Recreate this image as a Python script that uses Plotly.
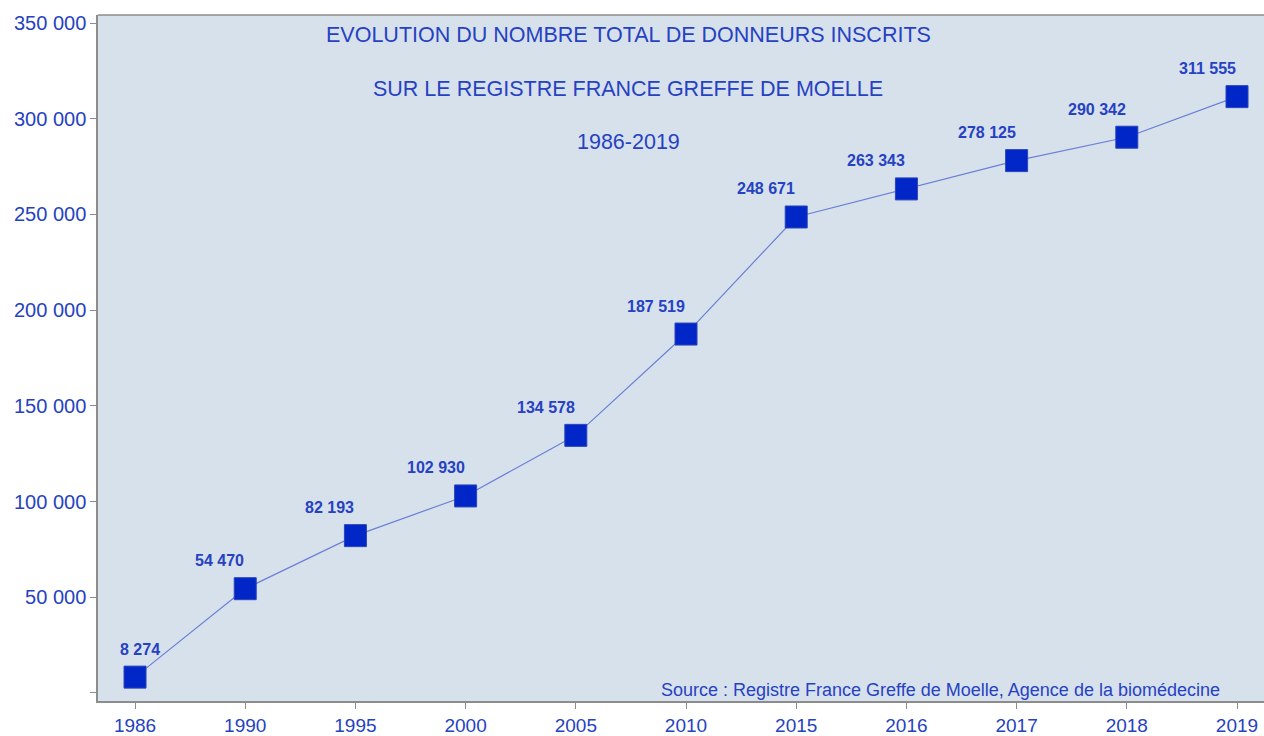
import plotly.graph_objects as go

years = ["1986", "1990", "1995", "2000", "2005", "2010", "2015", "2016", "2017", "2018", "2019"]
donors = [8274, 54470, 82193, 102930, 134578, 187519, 248671, 263343, 278125, 290342, 311555]
y_ticks = [0, 50000, 100000, 150000, 200000, 250000, 300000, 350000]
y_ticktext = ["" if v == 0 else f"{v:,}".replace(",", " ") for v in y_ticks]
title_lines = ["EVOLUTION DU NOMBRE TOTAL DE DONNEURS INSCRITS",
               "SUR LE REGISTRE FRANCE GREFFE DE MOELLE",
               "1986-2019"]
source = "Source : Registre France Greffe de Moelle, Agence de la biomédecine"

FONT = "Liberation Sans, Arial, sans-serif"
TXT = "#2642c2"

W, H = 1264, 736
L, R, T, B = 98, 0, 15, 35
pw, ph = W - L - R, H - T - B


def px_to_paper(px, py):
    return (px - L) / pw, (H - B - py) / ph


fig = go.Figure()
fig.add_trace(go.Scatter(
    x=years, y=donors, mode="lines+markers",
    line=dict(color="#6a7fd6", width=1.2),
    marker=dict(symbol="square", size=22, color="#0026c8",
                line=dict(color="#2a44b8", width=1)),
    hoverinfo="x+y", showlegend=False,
))

annotations = []
for i, v in enumerate(donors):
    first = (i == 0)
    annotations.append(dict(x=i, y=v, xref="x", yref="y", yshift=28,
                            xanchor="center" if first else "right",
                            xshift=5 if first else 1,
                            text="<b>" + f"{v:,}".replace(",", " ") + "</b>",
                            showarrow=False,
                            font=dict(family=FONT, size=16, color=TXT)))

for i, (t, yp) in enumerate(zip(title_lines, [35, 89, 142])):
    xp, ypp = px_to_paper(628, yp)
    annotations.append(dict(x=xp, y=ypp, xref="paper", yref="paper",
                            text=t, showarrow=False, xanchor="center", yanchor="middle",
                            font=dict(family=FONT, size=21.5, color=TXT)))

xs, ys = px_to_paper(1222, 690)
annotations.append(dict(x=xs, y=ys, xref="paper", yref="paper", text=source,
                        showarrow=False, xanchor="right", yanchor="middle",
                        font=dict(family=FONT, size=18, color=TXT)))

fig.update_layout(
    width=W, height=H,
    margin=dict(l=L, r=R, t=T, b=B),
    paper_bgcolor="white", plot_bgcolor="#d7e1ec",
    font=dict(family=FONT, color=TXT),
    annotations=annotations,
    xaxis=dict(type="category", range=[-0.336, 10.245],
               showline=True, linecolor="#8c8c8c", linewidth=1.5, mirror=False,
               ticks="outside", ticklen=6, tickcolor="#8c8c8c",
               showgrid=False, zeroline=False,
               tickfont=dict(family=FONT, size=19, color=TXT)),
    yaxis=dict(range=[-4200, 354200], tickvals=y_ticks, ticktext=y_ticktext,
               showline=True, linecolor="#8c8c8c", linewidth=1.5,
               ticks="outside", ticklen=6, tickcolor="#8c8c8c",
               showgrid=False, zeroline=False,
               tickfont=dict(family=FONT, size=20, color=TXT)),
    shapes=[dict(type="line", xref="paper", yref="paper", x0=0, x1=1, y0=1, y1=1,
                 line=dict(color="#8c8c8c", width=1.5))],
)

fig.write_html("out.html", config={"displayModeBar": False},
               post_script="document.body.style.margin='0';document.body.style.overflow='hidden';")
